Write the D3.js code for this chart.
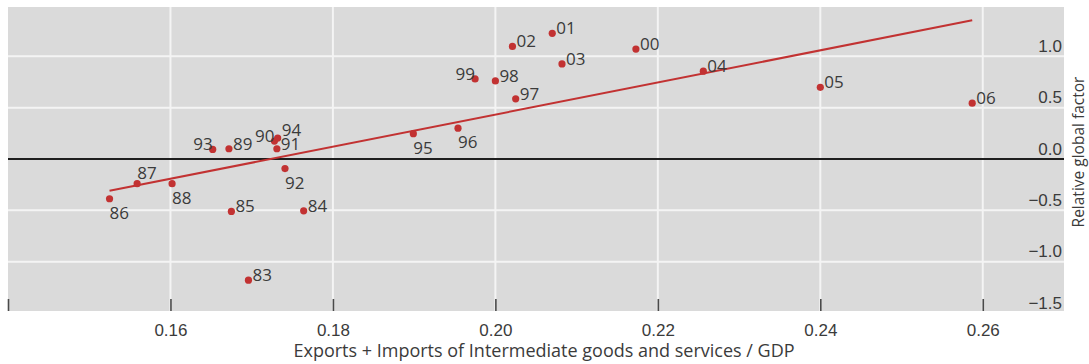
<!DOCTYPE html>
<html>
<head>
<meta charset="utf-8">
<script src="https://cdn.jsdelivr.net/npm/d3@7"></script>
<style>
  html, body { margin: 0; padding: 0; background: #ffffff; }
  svg { display: block; font-family: "Open Sans", "Noto Sans", sans-serif; }
</style>
</head>
<body>
<svg id="chart" width="1089" height="364"></svg>
<script>
// Year labels (two-digit) and their observations
const years = ["83","84","85","86","87","88","89","90","91","92","93","94",
               "95","96","97","98","99","00","01","02","03","04","05","06"];
// Exports + imports of intermediate goods and services / GDP
const tradeShare = [0.1696, 0.1764, 0.1675, 0.1525, 0.1559, 0.1602, 0.1672, 0.1728,
                    0.1731, 0.1741, 0.1652, 0.1732, 0.1899, 0.1954, 0.2025, 0.2000,
                    0.1975, 0.2173, 0.2070, 0.2021, 0.2082, 0.2256, 0.2400, 0.2587];
// Relative global factor
const globalFactor = [-1.18, -0.505, -0.51, -0.387, -0.24, -0.24, 0.10, 0.175,
                      0.10, -0.093, 0.093, 0.204, 0.247, 0.30, 0.586, 0.76,
                      0.78, 1.07, 1.224, 1.096, 0.926, 0.855, 0.698, 0.544];
// Fitted trend line end points
const fitX = [0.1525, 0.2587];
const fitY = [-0.31, 1.35];

// Axis ticks
const xTicks = [0.14, 0.16, 0.18, 0.20, 0.22, 0.24, 0.26];
const xTickLabels = ["", "0.16", "0.18", "0.20", "0.22", "0.24", "0.26"];
const yTicks = [-1.5, -1.0, -0.5, 0.0, 0.5, 1.0];
const yTickLabels = ["\u22121.5", "\u22121.0", "\u22120.5", "0.0", "0.5", "1.0"];

const xTitle = "Exports + Imports of Intermediate goods and services / GDP";
const yTitle = "Relative global factor";

// Where each year label sits relative to its dot
const below = new Set(["86", "88", "92", "95", "96"]);
const left = new Set(["90", "93", "99"]);
const above = new Set(["87"]);
const raised = new Set(["94"]);

const svg = d3.select("#chart");
const plot = { left: 8, right: 1064, top: 7, bottom: 311 };
const textColor = "#3b3b3b";
const red = "#c23232";

const x = d3.scaleLinear().domain([0.14, 0.27]).range([plot.left, plot.right]);
const y = d3.scaleLinear().domain([-1.48, 1.48]).range([plot.bottom, plot.top]);

// Panel background
svg.append("rect")
  .attr("x", plot.left).attr("y", plot.top)
  .attr("width", plot.right - plot.left).attr("height", plot.bottom - plot.top)
  .attr("fill", "#dadada");

// White grid
const grid = svg.append("g").attr("stroke", "#f4f4f4").attr("stroke-width", 2);
grid.selectAll("line.v")
  .data(xTicks.filter(t => x(t) > plot.left + 1))
  .join("line").attr("class", "v")
  .attr("x1", d => x(d)).attr("x2", d => x(d))
  .attr("y1", plot.top).attr("y2", plot.bottom);
grid.selectAll("line.h")
  .data(yTicks.filter(t => t !== 0 && y(t) > plot.top && y(t) < plot.bottom))
  .join("line").attr("class", "h")
  .attr("x1", plot.left).attr("x2", plot.right)
  .attr("y1", d => y(d)).attr("y2", d => y(d));

// Zero line
svg.append("line")
  .attr("x1", plot.left).attr("x2", plot.right)
  .attr("y1", y(0)).attr("y2", y(0))
  .attr("stroke", "#1e1e1e").attr("stroke-width", 2);

// X axis: short ticks pointing into the panel, labels underneath
const xAxis = d3.axisBottom(x)
  .tickValues(xTicks)
  .tickFormat((d, i) => xTickLabels[i])
  .tickSizeInner(-12).tickSizeOuter(0).tickPadding(13);
const gx = svg.append("g").attr("transform", `translate(0,${plot.bottom})`).call(xAxis);
gx.select(".domain").remove();
gx.selectAll(".tick line").attr("stroke", "#4a4a4a").attr("stroke-width", 1.6);
gx.selectAll(".tick text").attr("fill", textColor).attr("font-size", 17);

// Y axis: labels inside the panel on the right, sitting above their grid lines
const yAxis = d3.axisLeft(y)
  .tickValues(yTicks)
  .tickFormat((d, i) => yTickLabels[i])
  .tickSize(0).tickPadding(2);
const gy = svg.append("g").attr("transform", `translate(${plot.right},0)`).call(yAxis);
gy.select(".domain").remove();
gy.selectAll(".tick text")
  .attr("fill", textColor).attr("font-size", 17)
  .attr("dy", -5);

// Trend line
svg.append("path")
  .datum(fitX.map((v, i) => [v, fitY[i]]))
  .attr("d", d3.line().x(d => x(d[0])).y(d => y(d[1])))
  .attr("fill", "none").attr("stroke", red).attr("stroke-width", 2);

// Points
const pts = years.map((yr, i) => ({ yr, tx: tradeShare[i], gf: globalFactor[i] }));
svg.append("g").selectAll("circle")
  .data(pts).join("circle")
  .attr("cx", d => x(d.tx)).attr("cy", d => y(d.gf))
  .attr("r", 3.6).attr("fill", red);

// Year labels
function labelDx(yr) {
  if (below.has(yr) || above.has(yr) || left.has(yr)) return 0;
  return 4;
}
function labelDy(yr) {
  if (below.has(yr)) return 20;
  if (above.has(yr)) return -5;
  if (raised.has(yr)) return -2;
  return 1;
}
svg.append("g").selectAll("text")
  .data(pts).join("text")
  .attr("x", d => x(d.tx) + labelDx(d.yr))
  .attr("y", d => y(d.gf) + labelDy(d.yr))
  .attr("text-anchor", d => left.has(d.yr) ? "end" : "start")
  .attr("fill", textColor).attr("font-size", 17)
  .text(d => d.yr);

// Axis titles
svg.append("text")
  .attr("x", 544).attr("y", 357)
  .attr("text-anchor", "middle")
  .attr("fill", textColor).attr("font-size", 18)
  .text(xTitle);

svg.append("text")
  .attr("transform", "translate(1084,152) rotate(-90)")
  .attr("text-anchor", "middle")
  .attr("fill", textColor).attr("font-size", 15.5)
  .text(yTitle);
</script>
</body>
</html>
